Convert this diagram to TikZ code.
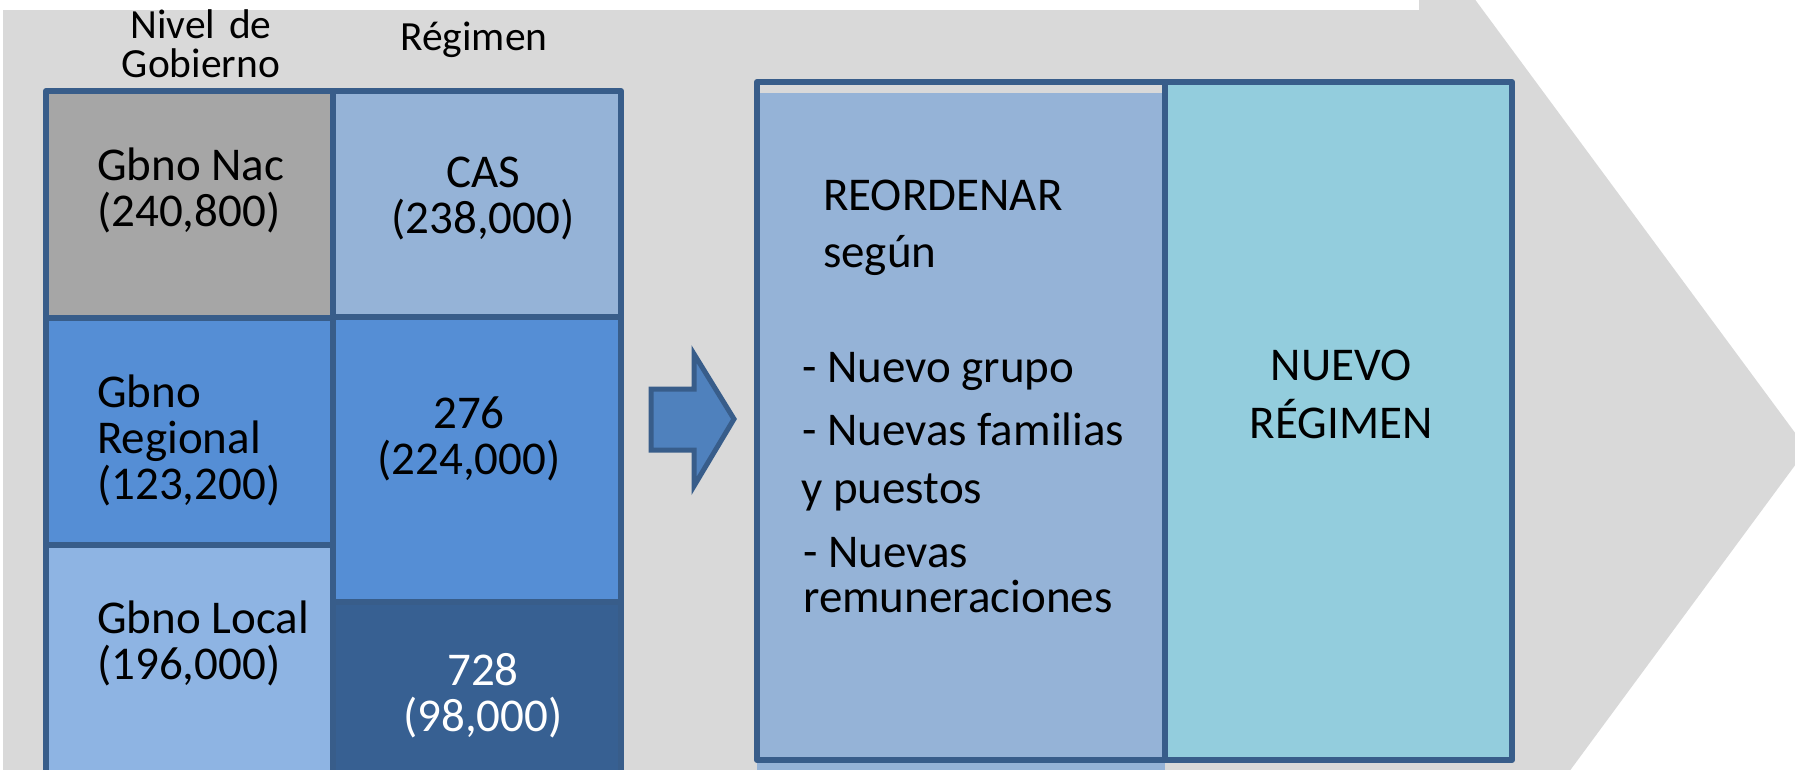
\documentclass[tikz,border=0pt]{standalone}
\usepackage{fontspec}
\setmainfont{Carlito}
\definecolor{bggray}{HTML}{D9D9D9}
\definecolor{bordercol}{HTML}{385D8A}
\definecolor{nacgray}{HTML}{A6A6A6}
\definecolor{regblue}{HTML}{558ED5}
\definecolor{locblue}{HTML}{8EB4E3}
\definecolor{casblue}{HTML}{95B3D7}
\definecolor{darkblue}{HTML}{376092}
\definecolor{arrowblue}{HTML}{4F81BD}
\definecolor{panelleft}{HTML}{95B3D7}
\definecolor{panelright}{HTML}{93CDDD}
\newcommand{\natsp}{\spaceskip=0pt\xspaceskip=0pt\relax}
\begin{document}
\begin{tikzpicture}[x=1pt,y=-1pt,
  edge/.style={draw=bordercol, line width=6pt, line join=round},
  lt/.style={inner sep=0pt, anchor=base west, align=left, text width=420pt,
    font=\fontsize{47}{46}\selectfont, execute at begin node=\natsp},
  ct/.style={inner sep=0pt, anchor=base, align=center, text width=300pt,
    font=\fontsize{47}{46}\selectfont, execute at begin node=\natsp},
  hdr/.style={inner sep=0pt, anchor=base, align=center, text width=300pt,
    font=\fontsize{41.5}{39}\selectfont, execute at begin node=\natsp}]
\useasboundingbox (0,0) rectangle (1795,769);
\clip (0,0) rectangle (1795,769);
% background chevron
\fill[bggray] (3,10) -- (1419,10) -- (1419,-10) -- (1468,-10) -- (1807,449)
  -- (1563,780) -- (3,780) -- cycle;
% headers
\node[hdr] (hnivel) at (201,38) {\natsp Nivel de\\Gobierno};
\node[hdr] (hregimen) at (474,50) {\natsp Régimen};
% left table cells
\fill[nacgray] (46,91) rectangle (333,318);
\fill[regblue] (46,318) rectangle (333,545);
\fill[locblue] (46,545) rectangle (333,780);
\fill[casblue] (333,91) rectangle (621,317);
\fill[regblue] (333,317) rectangle (621,602);
\fill[darkblue] (333,602) rectangle (621,780);
\draw[edge] (46,780) -- (46,91) -- (621,91) -- (621,780);
\draw[edge] (333,91) -- (333,780);
\draw[edge] (46,318) -- (333,318);
\draw[edge] (46,545) -- (333,545);
\draw[edge] (333,317) -- (621,317);
\draw[edge] (333,602) -- (621,602);
% left table texts
\node[lt] (tnac) at (97,180) {\natsp Gbno Nac\\(240,800)};
\node[lt] (treg) at (97,407) {\natsp Gbno\\Regional\\(123,200)};
\node[lt] (tloc) at (97,633) {\natsp Gbno Local\\(196,000)};
\node[ct] (tcas) at (483,187) {\natsp CAS\\(238,000)};
\node[ct] (t276) at (469,428) {\natsp 276\\(224,000)};
\node[ct, text=white] (t728) at (483,685) {\natsp 728\\(98,000)};
% block arrow
\draw[edge, fill=arrowblue, line join=miter, line width=5pt]
  (651,389) -- (694,389) -- (694,354) -- (734,419) -- (694,486) -- (694,450)
  -- (651,450) -- cycle;
% right panel
\fill[panelleft] (757,93) rectangle (1165,780);
\fill[panelright] (1165,82) rectangle (1512,760);
\draw[edge] (757,82) rectangle (1512,760);
\draw[edge] (1165,82) -- (1165,760);
\node[lt, font=\fontsize{47}{57}\selectfont] (treord) at (823,210) {\natsp REORDENAR\\según};
\node[lt] (tgrupo) at (802,382) {\natsp - Nuevo grupo};
\node[lt] (tfam) at (802,445) {\natsp - Nuevas familias};
\node[lt] (tpuestos) at (801,503) {\natsp y puestos};
\node[lt, font=\fontsize{47}{45}\selectfont] (tremu) at (803,567) {\natsp - Nuevas\\remuneraciones};
\node[ct, font=\fontsize{47}{58}\selectfont] (tnuevo) at (1341,380) {\natsp NUEVO\\RÉGIMEN};
\end{tikzpicture}
\end{document}
